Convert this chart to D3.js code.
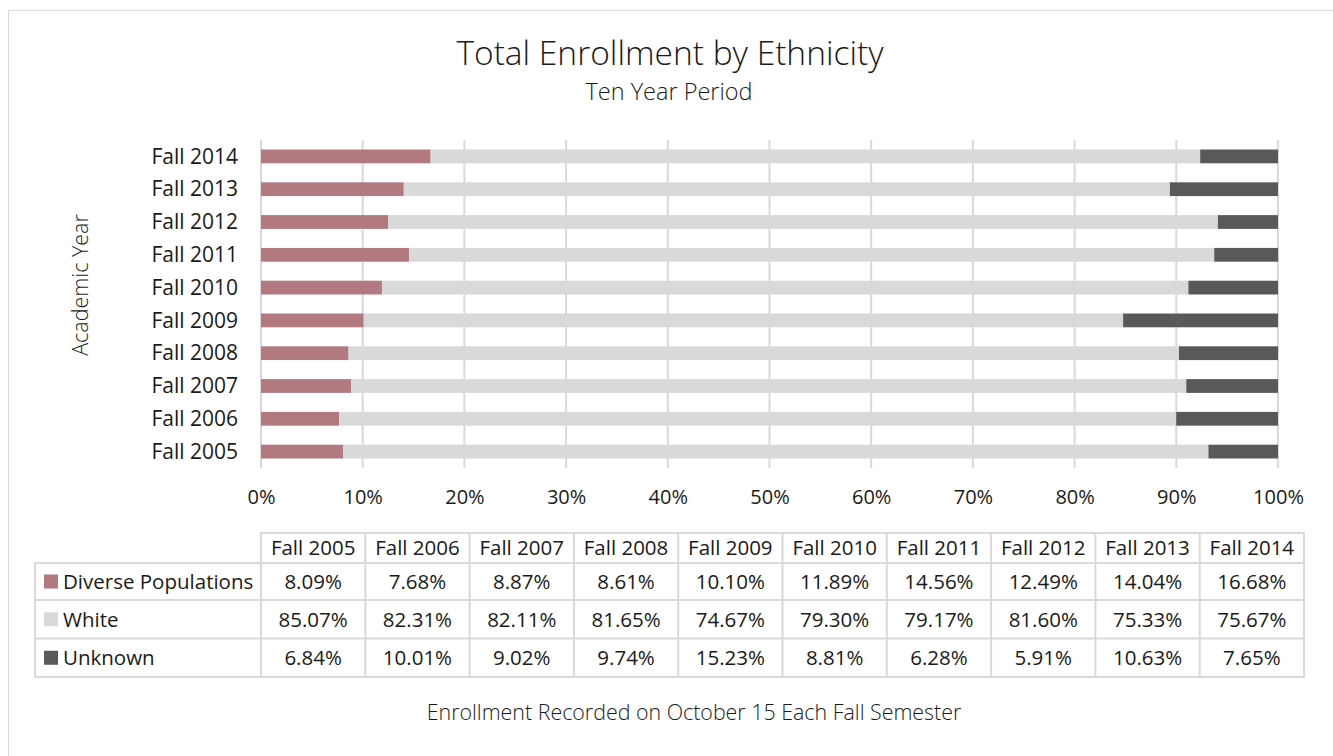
<!DOCTYPE html>
<html><head><meta charset="utf-8">
<script src="https://cdn.jsdelivr.net/npm/d3@7/dist/d3.min.js"></script>
<style>
body{margin:0;background:#fff;}
svg text{font-family:"Open Sans",sans-serif;fill:#1a1a1a;}
</style></head>
<body><svg id="c" width="1333" height="756"></svg>
<script>
const years = ["Fall 2005","Fall 2006","Fall 2007","Fall 2008","Fall 2009","Fall 2010","Fall 2011","Fall 2012","Fall 2013","Fall 2014"];
const seriesNames = ["Diverse Populations","White","Unknown"];
const diverse = [8.09,7.68,8.87,8.61,10.10,11.89,14.56,12.49,14.04,16.68];
const white = [85.07,82.31,82.11,81.65,74.67,79.30,79.17,81.60,75.33,75.67];
const unknown = [6.84,10.01,9.02,9.74,15.23,8.81,6.28,5.91,10.63,7.65];
const xTicks = [0,10,20,30,40,50,60,70,80,90,100];
const colors = ["#b27980","#d9d9d9","#595959"];

const svg = d3.select("#c");
svg.append("rect").attr("x",8.5).attr("y",10.5).attr("width",1340).attr("height",760)
  .attr("fill","none").attr("stroke","#d9d9d9").attr("stroke-width",1);

svg.append("text").attr("x",670).attr("y",65).attr("text-anchor","middle")
  .style("font-size","33.5px").style("font-weight",300).text("Total Enrollment by Ethnicity");
svg.append("text").attr("x",669).attr("y",100).attr("text-anchor","middle")
  .style("font-size","23.5px").style("font-weight",300).text("Ten Year Period");

const x = d3.scaleLinear().domain([0,100]).range([261,1278]);
const y = d3.scaleBand().domain(years.slice().reverse()).range([140,468]).paddingInner(0.58).paddingOuter(0.29);

svg.append("g").selectAll("line").data(xTicks).join("line")
  .attr("x1",d=>x(d)).attr("x2",d=>x(d)).attr("y1",140).attr("y2",468)
  .attr("stroke","#d9d9d9").attr("stroke-width",2);

const rows = years.map((yr,i)=>({year:yr, vals:[diverse[i],white[i],unknown[i]]}));
const stack = d3.stack().keys([0,1,2]).value((d,k)=>d.vals[k]);
const stacked = stack(rows);
svg.append("g").selectAll("g").data(stacked).join("g").attr("fill",(d,i)=>colors[i])
  .selectAll("rect").data(d=>d).join("rect")
  .attr("x",d=>x(d[0])).attr("width",d=>x(d[1])-x(d[0]))
  .attr("y",d=>y(d.data.year)).attr("height",y.bandwidth());

const FS = "20.5px";
const yAxis = d3.axisLeft(y).tickSize(0).tickPadding(23);
const gy = svg.append("g").attr("transform","translate(261,0.5)").call(yAxis);
gy.select(".domain").remove();
gy.selectAll("text").style("font-size","21px").style("font-family","'Open Sans',sans-serif").attr("fill","#1a1a1a");

const xAxis = d3.axisBottom(x).tickValues(xTicks).tickFormat(d=>d+"%").tickSize(0).tickPadding(0);
const gx = svg.append("g").attr("transform","translate(0,486)").call(xAxis);
gx.select(".domain").remove();
gx.selectAll("text").style("font-size","20px").style("font-family","'Open Sans',sans-serif").attr("fill","#1a1a1a").attr("dy","0.9em");

svg.append("text").attr("transform","translate(88,285) rotate(-90)").attr("text-anchor","middle")
  .style("font-size","21.5px").style("font-weight",300).text("Academic Year");

const tLeft = 35, c0 = 261, tRight = 1304;
const colW = (tRight-c0)/years.length;
const rowY = [533,563,600,638.5,677];
const g = svg.append("g");
const lc = "#d9d9d9";
g.append("rect").attr("x",c0).attr("y",rowY[0]).attr("width",tRight-c0).attr("height",rowY[4]-rowY[0]).attr("fill","none").attr("stroke",lc).attr("stroke-width",2);
g.append("rect").attr("x",tLeft).attr("y",rowY[1]).attr("width",tRight-tLeft).attr("height",rowY[4]-rowY[1]).attr("fill","none").attr("stroke",lc).attr("stroke-width",2);
[1,2,3].forEach(i=>g.append("line").attr("x1",i===1?c0:tLeft).attr("x2",tRight).attr("y1",rowY[i]).attr("y2",rowY[i]).attr("stroke",lc).attr("stroke-width",2));
d3.range(1,years.length).forEach(i=>g.append("line").attr("x1",c0+i*colW).attr("x2",c0+i*colW).attr("y1",rowY[0]).attr("y2",rowY[4]).attr("stroke",lc).attr("stroke-width",2));
years.forEach((yr,i)=>g.append("text").attr("x",c0+(i+0.5)*colW).attr("y",(rowY[0]+rowY[1])/2).attr("dy","0.36em")
  .attr("text-anchor","middle").style("font-size",FS).text(yr));
const tableVals = [diverse,white,unknown];
seriesNames.forEach((nm,r)=>{
  const cy = (rowY[r+1]+rowY[r+2])/2;
  g.append("rect").attr("x",44).attr("y",cy-7).attr("width",14).attr("height",14).attr("fill",colors[r]);
  g.append("text").attr("x",63).attr("y",cy).attr("dy","0.36em").style("font-size",FS).text(nm);
  tableVals[r].forEach((v,i)=>g.append("text").attr("x",c0+(i+0.5)*colW).attr("y",cy).attr("dy","0.36em")
    .attr("text-anchor","middle").style("font-size",FS).text(v.toFixed(2)+"%"));
});

svg.append("text").attr("x",694).attr("y",720).attr("text-anchor","middle")
  .style("font-size","21.4px").style("font-weight",300).text("Enrollment Recorded on October 15 Each Fall Semester");
</script></body></html>
